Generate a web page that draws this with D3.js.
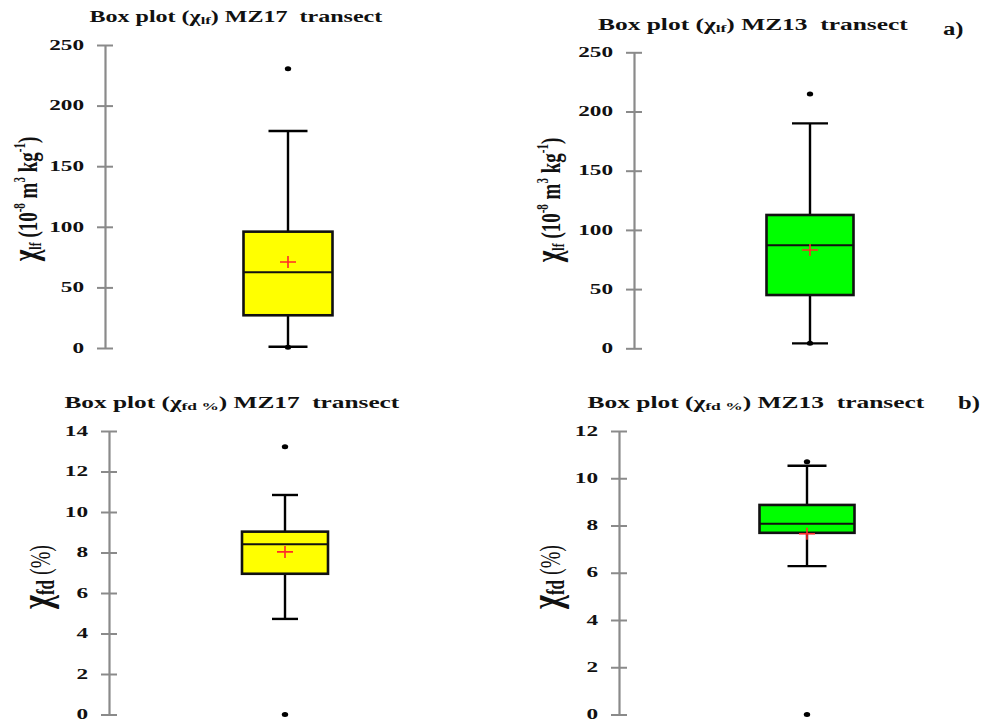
<!DOCTYPE html>
<html><head><meta charset="utf-8">
<script src="https://cdn.jsdelivr.net/npm/d3@7/dist/d3.min.js"></script>
<style>
html,body{margin:0;padding:0;background:#fff;}
svg{display:block;}
text{font-family:"Liberation Serif","Times New Roman",serif;}
</style></head>
<body>
<script>
// ---- data ----
const transects = ["MZ17", "MZ13"];
const boxColors = ["#ffff00", "#00ff00"];

// chi_lf (10^-8 m3 kg-1)
const lfLowWhisker = [1, 4.2];
const lfQ1 = [27, 45];
const lfMedian = [62.5, 87];
const lfQ3 = [96, 112.6];
const lfHighWhisker = [179, 190];
const lfMean = [71, 83];
const lfOutliers = [[0.6, 230.5], [4.2, 214.8]];
const lfTicks = [0, 50, 100, 150, 200, 250];

// chi_fd (%)
const fdLowWhisker = [4.72, 6.28];
const fdQ1 = [6.95, 7.69];
const fdMedian = [8.41, 8.07];
const fdQ3 = [9.03, 8.87];
const fdHighWhisker = [10.84, 10.53];
const fdMean = [8.03, 7.65];
const fdOutliers = [[0, 13.22], [0, 10.7]];
const fdTicks17 = [0, 2, 4, 6, 8, 10, 12, 14];
const fdTicks13 = [0, 2, 4, 6, 8, 10, 12];

// ---- layout ----
const W = 987, H = 722;
const svg = d3.select("body").append("svg").attr("width", W).attr("height", H);
svg.append("rect").attr("width", W).attr("height", H).attr("fill", "#fff");

const panels = [
  {kind:"lf", i:0, ticks:lfTicks, axisX:105, top:45, bottom:348, cx:288, boxHalf:44.5, capHalf:19.5,
   titleCx:236, titleY:22, titleW:293, labelX:37, labelY:199, corner:null},
  {kind:"lf", i:1, ticks:lfTicks, axisX:634, top:52.3, bottom:348.3, cx:810, boxHalf:43.5, capHalf:18,
   titleCx:753, titleY:30, titleW:310, labelX:560, labelY:200, corner:{t:"a)", x:943, y:35}},
  {kind:"fd", i:0, ticks:fdTicks17, axisX:109, top:431, bottom:714.5, cx:285, boxHalf:43, capHalf:13,
   titleCx:232, titleY:408, titleW:335, labelX:50, labelY:577, corner:null},
  {kind:"fd", i:1, ticks:fdTicks13, axisX:619, top:431, bottom:714.5, cx:807, boxHalf:47.5, capHalf:19.5,
   titleCx:756, titleY:408, titleW:337, labelX:560, labelY:577, corner:{t:"b)", x:958, y:409}}
];

const tickSX = 1.55;

panels.forEach(p => {
  const isLf = p.kind === "lf";
  const i = p.i;
  const low = isLf ? lfLowWhisker[i] : fdLowWhisker[i];
  const q1 = isLf ? lfQ1[i] : fdQ1[i];
  const med = isLf ? lfMedian[i] : fdMedian[i];
  const q3 = isLf ? lfQ3[i] : fdQ3[i];
  const high = isLf ? lfHighWhisker[i] : fdHighWhisker[i];
  const mean = isLf ? lfMean[i] : fdMean[i];
  const outs = isLf ? lfOutliers[i] : fdOutliers[i];
  const ticks = p.ticks;

  const y = d3.scaleLinear().domain([0, d3.max(ticks)]).range([p.bottom, p.top]);
  const g = svg.append("g");

  // axis
  const ax = g.append("g").attr("transform", `translate(${p.axisX},0)`)
    .call(d3.axisLeft(y).tickValues(ticks).tickSizeInner(8).tickSizeOuter(0).tickFormat(d3.format("d")));
  ax.attr("font-family", null).attr("font-size", null);
  ax.select(".domain").attr("stroke", "#8a8a8a").attr("stroke-width", 2.2);
  ax.selectAll(".tick line").attr("x1", 8).attr("x2", -8).attr("stroke", "#8a8a8a").attr("stroke-width", 2);
  ax.selectAll(".tick text")
    .attr("x", -21 / tickSX).attr("dy", "0.28em")
    .attr("transform", `scale(${tickSX},1)`)
    .attr("fill", "#111")
    .style("font-family", '"Liberation Serif", "Times New Roman", serif')
    .style("font-weight", "bold")
    .style("font-size", "15px");

  // whiskers
  const wk = g.append("g").attr("stroke", "#000").attr("stroke-width", 2.4);
  wk.append("line").attr("x1", p.cx).attr("x2", p.cx).attr("y1", y(high)).attr("y2", y(q3));
  wk.append("line").attr("x1", p.cx).attr("x2", p.cx).attr("y1", y(q1)).attr("y2", y(low));
  wk.append("line").attr("x1", p.cx - p.capHalf).attr("x2", p.cx + p.capHalf).attr("y1", y(high)).attr("y2", y(high));
  wk.append("line").attr("x1", p.cx - p.capHalf).attr("x2", p.cx + p.capHalf).attr("y1", y(low)).attr("y2", y(low));

  // box
  g.append("rect").attr("x", p.cx - p.boxHalf).attr("width", 2 * p.boxHalf)
    .attr("y", y(q3)).attr("height", y(q1) - y(q3))
    .attr("fill", boxColors[i]).attr("stroke", "#111").attr("stroke-width", 2.6);
  g.append("line").attr("x1", p.cx - p.boxHalf).attr("x2", p.cx + p.boxHalf)
    .attr("y1", y(med)).attr("y2", y(med)).attr("stroke", "#111").attr("stroke-width", 2);

  // mean cross
  const my = y(mean);
  g.append("path").attr("d", `M${p.cx - 8},${my}H${p.cx + 8}M${p.cx},${my - 6}V${my + 6}`)
    .attr("stroke", "#ff2a2a").attr("stroke-width", 1.6).attr("fill", "none");

  // outliers
  g.selectAll("ellipse.o").data(outs).enter().append("ellipse")
    .attr("cx", p.cx).attr("cy", d => y(d)).attr("rx", 3.2).attr("ry", 2.5).attr("fill", "#000");

  // title
  const sub = isLf ? "lf" : "fd %";
  const title = g.append("text").attr("text-anchor", "start").attr("xml:space", "preserve")
    .style("font-weight", "bold").style("font-size", "16px").attr("fill", "#111");
  title.append("tspan").text("Box plot (χ");
  title.append("tspan").text(sub).style("font-size", "11px").attr("dy", 2);
  title.append("tspan").text(") " + transects[i] + "  transect").attr("dy", -2);
  const tw = title.node().getComputedTextLength();
  const sx = p.titleW / tw;
  title.attr("transform", `translate(${p.titleCx - p.titleW / 2},${p.titleY}) scale(${sx},1)`);

  if (p.corner) {
    g.append("text").attr("x", 0).attr("y", 0)
      .attr("transform", `translate(${p.corner.x},${p.corner.y}) scale(1.3,1)`)
      .style("font-weight", "bold").style("font-size", "19px").attr("fill", "#111").text(p.corner.t);
  }

  // y label
  const lab = g.append("text").attr("text-anchor", "middle").attr("xml:space", "preserve")
    .attr("transform", `translate(${p.labelX},${p.labelY}) scale(1.45,1) rotate(-90)`)
    .attr("fill", "#111").style("font-size", "19px").style("font-weight", "bold");
  if (isLf) {
    lab.append("tspan").text("χ").style("font-size", "25px");
    lab.append("tspan").text("lf").style("font-size", "12px").attr("dy", 3);
    lab.append("tspan").text(" (10").attr("dy", -3);
    lab.append("tspan").text("-8").style("font-size", "11px").attr("dy", -8);
    lab.append("tspan").text(" m").attr("dy", 8);
    lab.append("tspan").text("3").style("font-size", "11px").attr("dy", -8);
    lab.append("tspan").text(" kg").attr("dy", 8);
    lab.append("tspan").text("-1").style("font-size", "11px").attr("dy", -8);
    lab.append("tspan").text(")").attr("dy", 8);
  } else {
    lab.append("tspan").text("χ").style("font-size", "30px");
    lab.append("tspan").text("fd").style("font-size", "17px").attr("dy", 3);
    lab.append("tspan").text(" (%)").style("font-size", "20px").style("font-weight", "normal").attr("dy", -3);
  }
});
</script>
</body></html>
